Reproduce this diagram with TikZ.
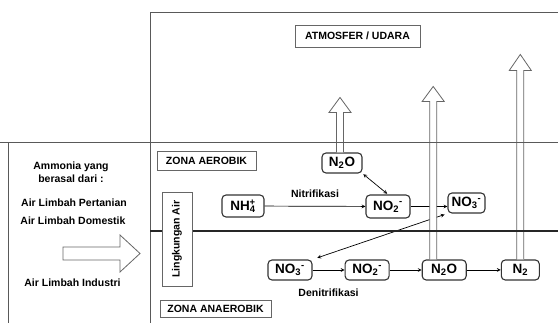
\documentclass[tikz,border=0pt]{standalone}
\usepackage{fontspec}
\setmainfont{Liberation Sans}
\usetikzlibrary{arrows,positioning,calc}

\begin{document}
\begin{tikzpicture}[
    x=1pt, y=1pt,
    node distance=7pt and 32pt,
    chem/.style={rectangle, draw=black!80, line width=1.1pt, rounded corners=4pt, minimum height=20pt, inner sep=2pt, align=center, font=\bfseries\fontsize{13.5}{15}\selectfont},
    zone/.style={rectangle, draw=black!60, fill=white, line width=0.8pt, inner sep=2pt, align=center, font=\bfseries\fontsize{10.5}{12}\selectfont},
    txt/.style={inner sep=1pt, align=center, font=\bfseries\fontsize{10.5}{13}\selectfont},
    arrow/.style={->, line width=0.7pt, >=stealth},
    both/.style={<->, line width=0.7pt, >=stealth},
    hollow/.style={draw=black!60, fill=white, line width=0.8pt},
    frame/.style={draw=black!65, line width=1pt}
]
\useasboundingbox (0,0) rectangle (558,323);

% Zones
\node[zone, minimum width=125pt, minimum height=22pt] (atmosfer) at (357.5,287) {ATMOSFER / UDARA};
\node[zone, minimum width=99pt, minimum height=19pt] (aerob) at (206.5,162.5) {ZONA AEROBIK};
\node[zone, minimum width=111pt, minimum height=17pt] (anaerob) at (215.5,14) {ZONA ANAEROBIK};

% Sources
\node[txt] (ammonia) at (71,150.5) {Ammonia yang\\berasal dari :};
\node[txt] (pertanian) at (74,120) {Air Limbah Pertanian};
\node[txt] (domestik) at (73,102) {Air Limbah Domestik};
\node[txt] (industri) at (72.5,40) {Air Limbah Industri};
\draw[hollow] (63,63) -- (120,63) -- (120,51) -- (140,69.5) -- (120,88) -- (120,76) -- (63,76) -- cycle;

% Aerobic
\node[chem, minimum width=42pt, minimum height=22pt] (nh4) at (243,117) {NH\textsubscript{4}\llap{\textsuperscript{+}}};
\node[chem, minimum width=44pt, minimum height=23pt] (no2a) at (388,116.5) {NO\textsubscript{2}\textsuperscript{-}};
\node[chem, minimum width=37pt] (no3a) at (466.5,120) {NO\textsubscript{3}\textsuperscript{-}};
\node[chem, minimum width=40pt] (n2oa) at (342,160) {N\textsubscript{2}O};

% Anaerobic
\node[chem, minimum width=44pt] (no3b) at (290,53) {NO\textsubscript{3}\textsuperscript{-}};
\node[chem, minimum width=44pt, right=of no3b] (no2b) {NO\textsubscript{2}\textsuperscript{-}};
\node[chem, minimum width=44pt, right=of no2b] (n2ob) {N\textsubscript{2}O};
\node[chem, minimum width=38pt, right=34pt of n2ob] (n2) {N\textsubscript{2}};

% Arrows
\draw[arrow] (nh4) -- (no2a) node[txt, midway, above=7pt] (nitri) {Nitrifikasi};
\draw[arrow] (no2a.east) -- (no2a.east -| no3a.west);
\draw[both, shorten <=1pt, shorten >=1pt] (n2oa.south east) -- (no2a.north);
\draw[both, shorten <=3pt, shorten >=5pt] (no3a.south west) -- (no3b.north east);
\draw[arrow] (no3b) -- (no2b) node[txt, midway, below=18pt] (deni) {Denitrifikasi};
\draw[arrow] (no2b) -- (n2ob);
\draw[arrow] (n2ob) -- (n2);

% Release to the air
\draw[hollow] ($(n2oa.north)+(-5.5,0)$) -- ++(0,40) -- ++(-7.5,0) -- ++(11,15) -- ++(11,-15) -- ++(-7.5,0) -- ++(0,-40);
\draw[hollow] ($(n2ob.north)+(-14.5,0)$) -- ++(0,158) -- ++(-7.5,0) -- ++(11,15) -- ++(11,-15) -- ++(-7.5,0) -- ++(0,-158);
\draw[hollow] ($(n2.north)+(-3.5,0)$) -- ++(0,189) -- ++(-7.5,0) -- ++(11,16) -- ++(11,-16) -- ++(-7.5,0) -- ++(0,-189);

% Frame
\draw[frame] (150,0) -- (150,310) -- (558,310);
\draw[frame] (8,0) -- (8,181);
\draw[frame, line width=0.9pt] (0,181) -- (558,181);
\draw[frame, draw=black!85, line width=1.6pt] (150,92) -- (558,92);

% Water column label
\node[zone, rotate=90, minimum width=94pt, minimum height=30pt] (air) at (177,84) {Lingkungan Air};

\end{tikzpicture}
\end{document}
